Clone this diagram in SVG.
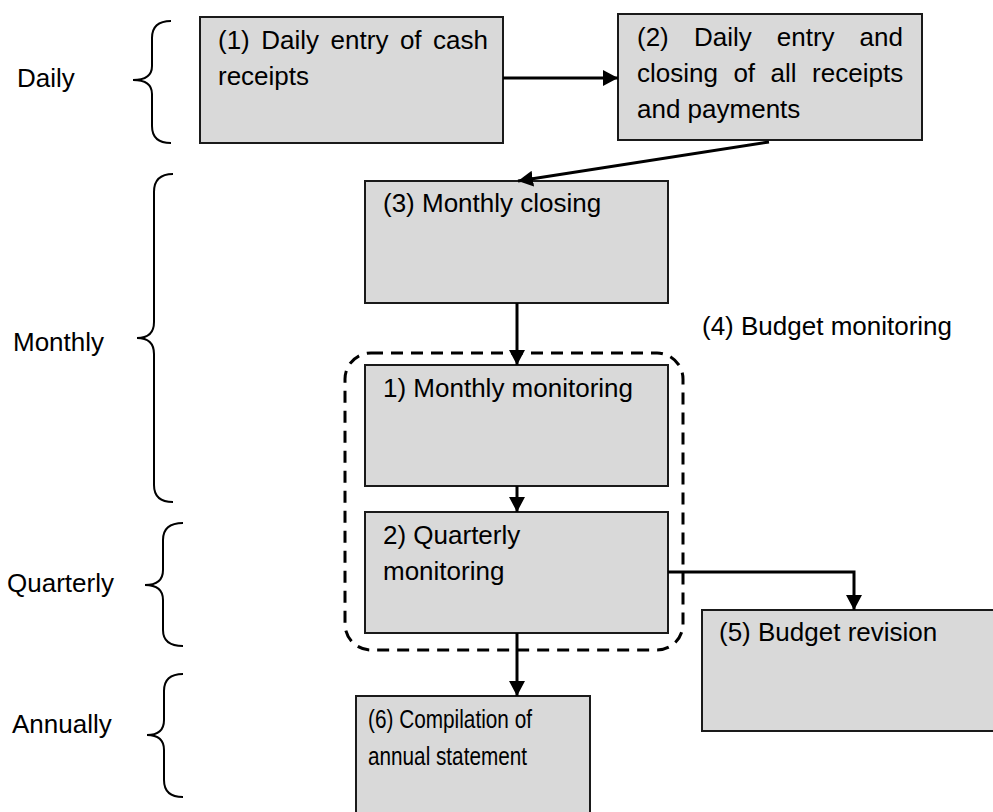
<svg xmlns="http://www.w3.org/2000/svg" width="993" height="812" viewBox="0 0 993 812">
<style>
.box{fill:#d9d9d9;stroke:#1a1a1a;stroke-width:2}
.t{font-family:"Liberation Sans",Arial,sans-serif;font-size:26px;fill:#000}
.c{fill:none;stroke:#000;stroke-width:3}
.br{fill:none;stroke:#000;stroke-width:2}
.dash{fill:none;stroke:#000;stroke-width:3;stroke-dasharray:12 8}
</style>
<defs>
<marker id="ah" viewBox="0 0 15 16" refX="15" refY="8" markerWidth="15" markerHeight="16" markerUnits="userSpaceOnUse" orient="auto">
<path d="M0,0 L15,8 L0,16 z" fill="#000"/>
</marker>
</defs>
<rect width="993" height="812" fill="#fff"/>

<g id="labels">
<text class="t" x="17" y="87">Daily</text>
<text class="t" x="13" y="351">Monthly</text>
<text class="t" x="7" y="592">Quarterly</text>
<text class="t" x="12" y="733">Annually</text>
<path class="br" d="M171,21 Q152,21 152,38 L152,66 Q152,80 133,80 Q152,80 152,94 L152,126 Q152,143 171,143"/>
<path class="br" d="M173,174 Q154,174 154,192 L154,322 Q154,338 137,338 Q154,338 154,354 L154,485 Q154,502 173,502"/>
<path class="br" d="M183,523 Q163,523 163,540 L163,570 Q163,585 145,585 Q163,585 163,600 L163,630 Q163,646 183,646"/>
<path class="br" d="M183,674 Q164,674 164,691 L164,720 Q164,735 147,735 Q164,735 164,750 L164,780 Q164,797 183,797"/>
</g>

<g id="group4">
<rect class="dash" x="345" y="353" width="338" height="297" rx="26" ry="26"/>
<text class="t" x="702" y="335">(4) Budget monitoring</text>
</g>

<g id="n1">
<rect class="box" x="200" y="17" width="303" height="126"/>
<text class="t" y="49"><tspan x="218">(1)</tspan><tspan x="261.3">Daily</tspan><tspan x="330.6">entry</tspan><tspan x="399.9">of</tspan><tspan x="433.1">cash</tspan></text>
<text class="t" x="218" y="85">receipts</text>
</g>

<g id="n2">
<rect class="box" x="618" y="14" width="304" height="126"/>
<text class="t" y="46"><tspan x="637">(2)</tspan><tspan x="693.9">Daily</tspan><tspan x="776.8">entry</tspan><tspan x="859.6">and</tspan></text>
<text class="t" y="82"><tspan x="637">closing</tspan><tspan x="733.4">of</tspan><tspan x="770.6">all</tspan><tspan x="812.1">receipts</tspan></text>
<text class="t" x="637" y="118">and payments</text>
</g>

<g id="n3">
<rect class="box" x="365" y="181" width="303" height="122"/>
<text class="t" x="383" y="212">(3) Monthly closing</text>
</g>

<g id="n4a">
<rect class="box" x="365" y="365" width="303" height="121"/>
<text class="t" x="383" y="397">1) Monthly monitoring</text>
</g>

<g id="n4b">
<rect class="box" x="365" y="512" width="303" height="121"/>
<text class="t" x="383" y="544">2) Quarterly</text>
<text class="t" x="383" y="580">monitoring</text>
</g>

<g id="n5">
<rect class="box" x="702" y="610" width="300" height="121"/>
<text class="t" x="719" y="641">(5) Budget revision</text>
</g>

<g id="n6">
<rect class="box" x="356" y="696" width="234" height="130"/>
<text class="t" x="368" y="728" textLength="164" lengthAdjust="spacingAndGlyphs">(6) Compilation of</text>
<text class="t" x="368" y="765" textLength="159" lengthAdjust="spacingAndGlyphs">annual statement</text>
</g>

<g id="connectors">
<line class="c" x1="503" y1="78" x2="618" y2="78" marker-end="url(#ah)"/>
<line class="c" x1="769" y1="142" x2="518" y2="181" marker-end="url(#ah)"/>
<line class="c" x1="517" y1="303" x2="517" y2="365" marker-end="url(#ah)"/>
<line class="c" x1="517" y1="486" x2="517" y2="512" marker-end="url(#ah)"/>
<line class="c" x1="517" y1="633" x2="517" y2="696" marker-end="url(#ah)"/>
<polyline class="c" points="668,572 854,572 854,610" marker-end="url(#ah)"/>
</g>
</svg>
